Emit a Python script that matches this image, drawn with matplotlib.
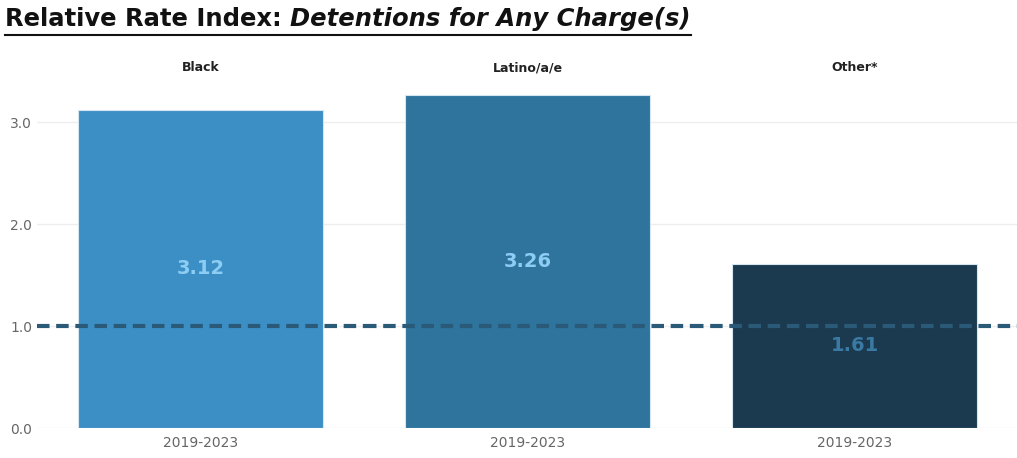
import matplotlib
matplotlib.use('Agg')
import matplotlib.pyplot as plt
from matplotlib.lines import Line2D

groups = ['Black', 'Latino/a/e', 'Other*']
period = ['2019-2023']
rri = [3.12, 3.26, 1.61]
bar_colors = ['#3b8fc4', '#2e749d', '#1b3a4f']
label_colors = ['#8dcdf3', '#8dcdf3', '#3a79a3']
yticks = [0.0, 1.0, 2.0, 3.0]

plt.rcParams['font.family'] = ['DejaVu Sans']

fig = plt.figure(figsize=(10.17, 4.58), dpi=100)

panel_w = 327 / 1017
left0 = 37 / 1017
bottom = 30 / 458
height = 3.4 * 102 / 458

for i, g in enumerate(groups):
    ax = fig.add_axes([left0 + i * panel_w, bottom, panel_w, height])
    ax.bar(period, [rri[i]], width=0.75, color=bar_colors[i], edgecolor='#d6e6f0', linewidth=0.8, zorder=2)
    ax.set_xlim(-0.5, 0.5)
    ax.set_ylim(0, 3.4)
    ax.set_yticks(yticks)
    for y in yticks:
        ax.axhline(y, color='#eeeeee', linewidth=1, zorder=0)
    ax.axhline(1.0, color='#2a5a78', linewidth=3, linestyle=(0, (3, 1.6)), zorder=3)
    ax.text(0, rri[i] / 2, f'{rri[i]:.2f}', ha='center', va='center',
            fontsize=14, fontweight='bold', color=label_colors[i], zorder=4)
    ax.set_title(g, fontsize=9, fontweight='bold', color='#222222', pad=7)
    for s in ax.spines.values():
        s.set_visible(False)
    ax.tick_params(axis='both', length=0, labelsize=10, labelcolor='#666666')
    ax.tick_params(axis='x', pad=6)
    if i == 0:
        ax.set_yticklabels([f'{v:.1f}' for v in yticks])
    else:
        ax.set_yticklabels([])

t1 = fig.text(5 / 1017, 1 - 19 / 458, 'Relative Rate Index: ', fontsize=17.5, fontweight='bold',
              color='#111111', va='center', ha='left')
fig.canvas.draw()
r = fig.canvas.get_renderer()
bb1 = t1.get_window_extent(r)
t2 = fig.text(bb1.x1 / 1017, 1 - 19 / 458, 'Detentions for Any Charge(s)', fontsize=17.5,
              fontweight='bold', style='italic', color='#111111', va='center', ha='left')
fig.canvas.draw()
bb2 = t2.get_window_extent(r)
uy = 1 - 35 / 458
fig.add_artist(Line2D([5 / 1017, bb2.x1 / 1017], [uy, uy], color='#111111', linewidth=1.5,
                      transform=fig.transFigure))

fig.savefig('out.png', dpi=100)
